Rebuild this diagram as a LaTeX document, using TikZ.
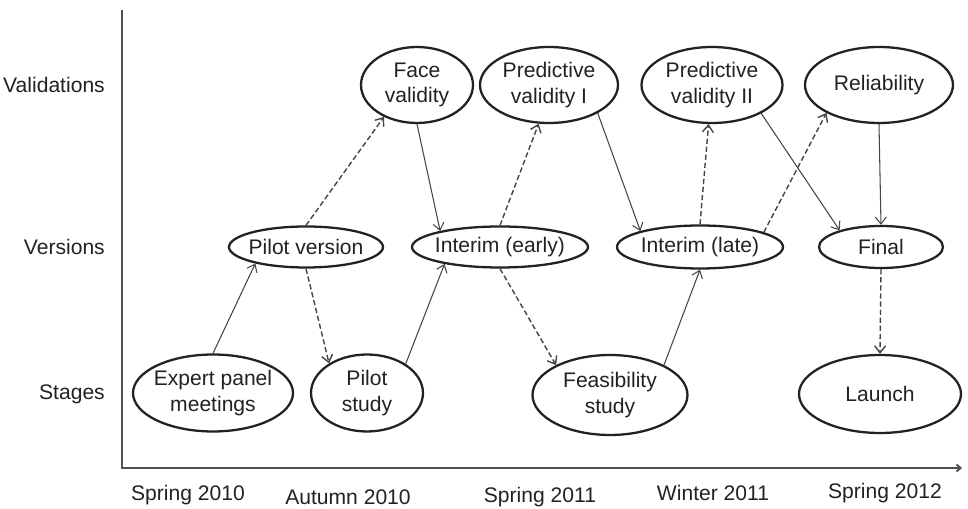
\documentclass[tikz,border=0pt]{standalone}
\usepackage{fontspec}
\setmainfont{Liberation Sans}
\usetikzlibrary{shapes.geometric,arrows.meta}

\definecolor{inkcol}{HTML}{222222}
\definecolor{linecol}{HTML}{454545}
\definecolor{axiscol}{HTML}{505050}

\begin{document}
\begin{tikzpicture}[x=0.02cm, y=-0.02cm, >={Straight Barb[length=1.4mm,width=2.2mm]},
		font=\fontsize{12}{14.4}\selectfont, text=inkcol,
		oval/.style 2 args={ellipse, draw=inkcol, line width=1.3pt, inner xsep=-8pt, inner ysep=0pt,
			align=center, minimum width=#1, minimum height=#2},
		solidarr/.style={->, draw=linecol, line width=0.6pt},
		dasharr/.style={->, draw=linecol, line width=0.8pt, dash pattern=on 3pt off 1.6pt}]
		\useasboundingbox (0,0) rectangle (968,509);
		\coordinate (ytop) at (122,10);
		\coordinate (origin) at (122,468);
		\coordinate (xend) at (962,468);
		% axes
		\draw[axiscol, line width=1.1pt, -{Straight Barb[length=0.8mm,width=1.4mm]}] (ytop) -- (origin) -- (xend);
		% row labels
		\node[anchor=east] (lvalid) at (111,85) {Validations};
		\node[anchor=east] (lvers) at (111,247) {Versions};
		\node[anchor=east] (lstage) at (111,394) {Stages};
		% time labels
		\node (t1) at (188,495) {Spring 2010};
		\node (t2) at (348,497) {Autumn 2010};
		\node (t3) at (540,497) {Spring 2011};
		\node (t4) at (713,493) {Winter 2011};
		\node (t5) at (885,493) {Spring 2012};
		% validations
		\node[oval={2.24cm}{1.52cm}] (fv) at (417,85) {Face\\validity};
		\node[oval={2.76cm}{1.52cm}] (pv1) at (549,85) {Predictive\\validity I};
		\node[oval={2.82cm}{1.52cm}] (pv2) at (712,85) {Predictive\\validity II};
		\node[oval={2.96cm}{1.52cm}] (rel) at (879,85) {Reliability};
		% versions
		\node[oval={3.08cm}{0.82cm}] (pver) at (306,247) {Pilot version};
		\node[oval={3.52cm}{0.82cm}] (ie) at (500,247) {Interim (early)};
		\node[oval={3.32cm}{0.86cm}] (il) at (700,247) {Interim (late)};
		\node[oval={2.48cm}{0.84cm}] (fin) at (881,247) {Final};
		% stages
		\node[oval={3.2cm}{1.54cm}] (ep) at (213,393) {Expert panel\\meetings};
		\node[oval={2.24cm}{1.54cm}] (ps) at (367,393) {Pilot\\study};
		\node[oval={3.1cm}{1.6cm}] (fs) at (610,395) {Feasibility\\study};
		\node[oval={3.24cm}{1.56cm}] (lau) at (880,394) {Launch};
		% development steps
		\draw[solidarr] (ep.north) -- (pver.198);
		\draw[dasharr] (pver.south) -- (ps.142);
		\draw[dasharr] (pver.north) -- (fv.224);
		\draw[solidarr] (fv.south) -- (ie.165);
		\draw[solidarr] (ps.37) -- (ie.197);
		\draw[dasharr] (ie.north) -- (pv1.255);
		\draw[dasharr] (ie.south) -- (fs.151);
		\draw[solidarr] (pv1.330) -- (il.165);
		\draw[solidarr] (fs.29) -- (il.south);
		\draw[dasharr] (il.north) -- (pv2.265);
		\draw[dasharr] (il.13) -- (rel.208);
		\draw[solidarr] (pv2.330) -- (fin.158);
		\draw[solidarr] (rel.south) -- (fin.north);
		\draw[dasharr] (fin.south) -- (lau.north);
	\end{tikzpicture}
\end{document}
